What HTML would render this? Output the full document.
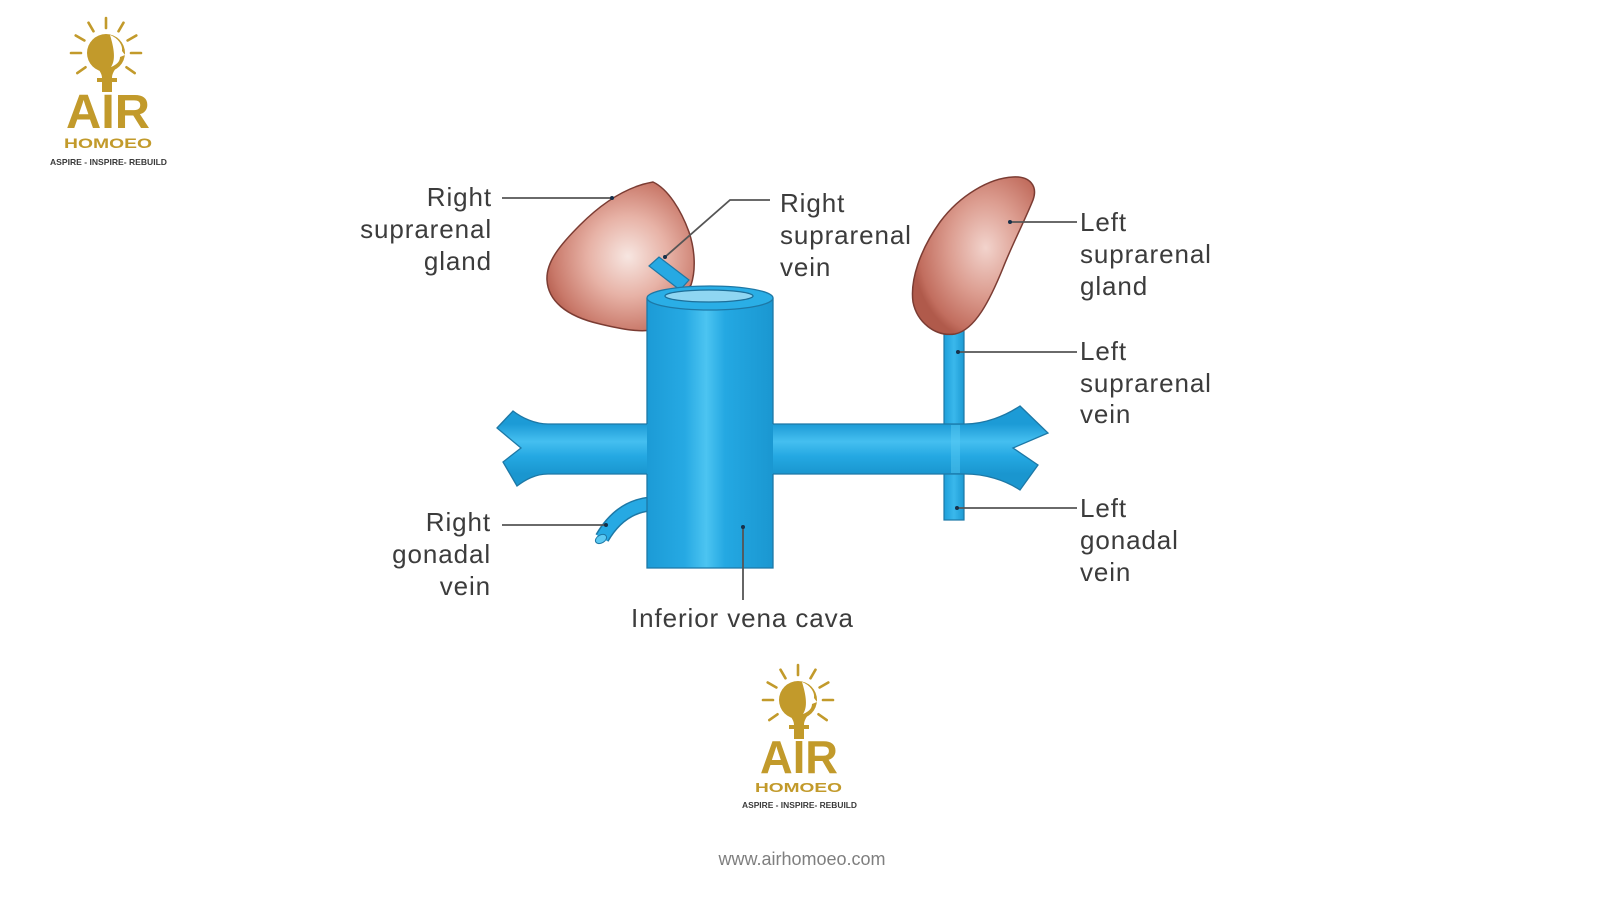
<!DOCTYPE html>
<html>
<head>
<meta charset="utf-8">
<style>
  html,body{margin:0;padding:0;background:#ffffff;}
  body{width:1600px;height:900px;overflow:hidden;}
  svg{display:block;}
  .lbl{font-family:"Liberation Sans",Arial,sans-serif;font-size:26px;fill:#3c3c3c;letter-spacing:0.9px;}
  .ld{stroke:#555;stroke-width:1.8;fill:none;}
</style>
</head>
<body>
<svg width="1600" height="900" viewBox="0 0 1600 900" xmlns="http://www.w3.org/2000/svg">
  <defs>
    <radialGradient id="glandR" cx="0.55" cy="0.5" r="0.6">
      <stop offset="0" stop-color="#f7e6e1"/>
      <stop offset="0.45" stop-color="#e7b2a6"/>
      <stop offset="0.85" stop-color="#c9796a"/>
      <stop offset="1" stop-color="#b55e4f"/>
    </radialGradient>
    <radialGradient id="glandL" cx="0.6" cy="0.45" r="0.6">
      <stop offset="0" stop-color="#f2d3cc"/>
      <stop offset="0.5" stop-color="#dc9d90"/>
      <stop offset="0.9" stop-color="#c26e5f"/>
      <stop offset="1" stop-color="#b05a4b"/>
    </radialGradient>
    <linearGradient id="ivc" x1="647" y1="0" x2="773" y2="0" gradientUnits="userSpaceOnUse">
      <stop offset="0" stop-color="#1c9bd6"/>
      <stop offset="0.3" stop-color="#26a9e3"/>
      <stop offset="0.47" stop-color="#4cc4f1"/>
      <stop offset="0.62" stop-color="#24a8e2"/>
      <stop offset="1" stop-color="#1a97d1"/>
    </linearGradient>
    <linearGradient id="renal" x1="0" y1="424" x2="0" y2="474" gradientUnits="userSpaceOnUse">
      <stop offset="0" stop-color="#1c9bd6"/>
      <stop offset="0.35" stop-color="#45bff0"/>
      <stop offset="0.65" stop-color="#24a8e2"/>
      <stop offset="1" stop-color="#1a96cf"/>
    </linearGradient>
    <linearGradient id="vert" x1="944" y1="0" x2="964" y2="0" gradientUnits="userSpaceOnUse">
      <stop offset="0" stop-color="#1e9fd9"/>
      <stop offset="0.5" stop-color="#3ab8ec"/>
      <stop offset="1" stop-color="#1c9ad3"/>
    </linearGradient>
  </defs>

  <!-- ===== LOGO 1 ===== -->
  <g transform="translate(108,18)">
    <g stroke="#c29a2b" stroke-width="2.6" stroke-linecap="round">
      <line x1="-2" y1="10" x2="-2" y2="0"/>
      <line x1="10.5" y1="13.3" x2="15.5" y2="4.7"/>
      <line x1="-14.5" y1="13.3" x2="-19.5" y2="4.7"/>
      <line x1="19.6" y1="22.5" x2="28.3" y2="17.5"/>
      <line x1="-23.6" y1="22.5" x2="-32.3" y2="17.5"/>
      <line x1="23" y1="35" x2="33" y2="35"/>
      <line x1="-27" y1="35" x2="-37" y2="35"/>
      <line x1="18.5" y1="49.3" x2="26.7" y2="55.1"/>
      <line x1="-22.5" y1="49.3" x2="-30.7" y2="55.1"/>
    </g>
    <circle cx="-2" cy="35" r="19" fill="#c29a2b"/>
    <path d="M2 17 C10 20 15 27 14 33 L17 37 L12 39 C12 44 8 47 3 49 C8 42 6 30 2 17 Z" fill="#ffffff"/>
    <path d="M-10 50 C-8 54 -6 56 -6 60 L4 60 C4 56 6 53 8 50 Z" fill="#c29a2b"/>
    <rect x="-11" y="60" width="20" height="4" fill="#c29a2b"/>
    <rect x="-6" y="64" width="10" height="10" fill="#c29a2b"/>
    <text x="-42" y="110" textLength="84" lengthAdjust="spacingAndGlyphs" font-family="Liberation Sans, Arial, sans-serif" font-weight="bold" font-size="48" fill="#c29a2b">AIR</text>
    <text x="-44" y="130" textLength="88" lengthAdjust="spacingAndGlyphs" font-family="Liberation Sans, Arial, sans-serif" font-weight="bold" font-size="14" fill="#c29a2b">HOMOEO</text>
    <text x="-58" y="147" textLength="117" lengthAdjust="spacingAndGlyphs" font-family="Liberation Sans, Arial, sans-serif" font-weight="bold" font-size="8.5" fill="#3a3a3a">ASPIRE - INSPIRE- REBUILD</text>
  </g>

  <!-- ===== LOGO 2 ===== -->
  <g transform="translate(800,665)">
    <g stroke="#c29a2b" stroke-width="2.6" stroke-linecap="round">
      <line x1="-2" y1="10" x2="-2" y2="0"/>
      <line x1="10.5" y1="13.3" x2="15.5" y2="4.7"/>
      <line x1="-14.5" y1="13.3" x2="-19.5" y2="4.7"/>
      <line x1="19.6" y1="22.5" x2="28.3" y2="17.5"/>
      <line x1="-23.6" y1="22.5" x2="-32.3" y2="17.5"/>
      <line x1="23" y1="35" x2="33" y2="35"/>
      <line x1="-27" y1="35" x2="-37" y2="35"/>
      <line x1="18.5" y1="49.3" x2="26.7" y2="55.1"/>
      <line x1="-22.5" y1="49.3" x2="-30.7" y2="55.1"/>
    </g>
    <circle cx="-2" cy="35" r="19" fill="#c29a2b"/>
    <path d="M2 17 C10 20 15 27 14 33 L17 37 L12 39 C12 44 8 47 3 49 C8 42 6 30 2 17 Z" fill="#ffffff"/>
    <path d="M-10 50 C-8 54 -6 56 -6 60 L4 60 C4 56 6 53 8 50 Z" fill="#c29a2b"/>
    <rect x="-11" y="60" width="20" height="4" fill="#c29a2b"/>
    <rect x="-6" y="64" width="10" height="10" fill="#c29a2b"/>
    <text x="-40" y="108" textLength="78" lengthAdjust="spacingAndGlyphs" font-family="Liberation Sans, Arial, sans-serif" font-weight="bold" font-size="46" fill="#c29a2b">AIR</text>
    <text x="-45" y="127" textLength="87" lengthAdjust="spacingAndGlyphs" font-family="Liberation Sans, Arial, sans-serif" font-weight="bold" font-size="13" fill="#c29a2b">HOMOEO</text>
    <text x="-58" y="143" textLength="115" lengthAdjust="spacingAndGlyphs" font-family="Liberation Sans, Arial, sans-serif" font-weight="bold" font-size="8" fill="#3a3a3a">ASPIRE - INSPIRE- REBUILD</text>
  </g>

  <text x="802" y="865" text-anchor="middle" font-family="Liberation Sans, Arial, sans-serif" font-size="18" fill="#7f7f7f">www.airhomoeo.com</text>

  <!-- ===== DIAGRAM ===== -->
  <!-- right suprarenal gland -->
  <path d="M653 182 C630 186 605 200 580 225 C560 245 546 262 547 280 C548 300 565 316 600 324 C625 330 640 332 652 330 L691 285 C696 270 695 250 689 232 C681 210 668 189 653 182 Z" fill="url(#glandR)" stroke="#7b3c33" stroke-width="1.5"/>

  <!-- right suprarenal vein (small) -->
  <path d="M649 266 L659 257 L689 280 L680 290 Z" fill="#26a9e3" stroke="#1d78a6" stroke-width="1.2"/>

  <!-- right gonadal vein -->
  <path d="M650 504 Q620 507 602 538" fill="none" stroke="#1d78a6" stroke-width="15"/>
  <path d="M650 504 Q620 507 602 538" fill="none" stroke="#26a9e3" stroke-width="12"/>
  <ellipse cx="601" cy="539" rx="6" ry="4" transform="rotate(-30 601 539)" fill="#5cc9f2" stroke="#1d78a6" stroke-width="1"/>

  <!-- left suprarenal / gonadal vertical vein -->
  <rect x="944" y="326" width="20" height="194" fill="url(#vert)" stroke="#1d78a6" stroke-width="1.2"/>

  <!-- left suprarenal gland -->
  <path d="M1013 177 C990 178 960 195 940 222 C920 250 910 280 913 302 C917 322 935 337 955 334 C975 330 990 300 1003 268 C1012 245 1025 220 1033 200 C1038 186 1030 176 1013 177 Z" fill="url(#glandL)" stroke="#7b3c33" stroke-width="1.5"/>

  <!-- renal vein -->
  <path d="M548 424 L965 424 C985 424 1005 416 1020 406 L1048 433 L1013 448 L1038 465 L1020 490 C1005 480 985 474 965 474 L548 474 C535 474 525 480 517 486 L503 462 L521 448 L497 428 L513 411 C522 418 535 424 548 424 Z" fill="url(#renal)" stroke="#1d78a6" stroke-width="1.3"/>
  <rect x="951" y="425" width="9" height="48" fill="#5ccbf3" opacity="0.45"/>

  <!-- IVC -->
  <rect x="647" y="298" width="126" height="270" fill="url(#ivc)"/>
  <path d="M647 298 L647 424 M647 474 L647 568 L773 568 L773 474 M773 424 L773 298" fill="none" stroke="#1d78a6" stroke-width="1.3"/>
  <ellipse cx="710" cy="298" rx="63" ry="12" fill="#2aaee6" stroke="#1d78a6" stroke-width="1.3"/>
  <ellipse cx="709" cy="296" rx="44" ry="6" fill="#8fd6f2" stroke="#1d6f99" stroke-width="1.3"/>

  <!-- leader lines -->
  <line class="ld" x1="502" y1="198" x2="612" y2="198"/>
  <polyline class="ld" points="770,200 730,200 665,257"/>
  <line class="ld" x1="1010" y1="222" x2="1077" y2="222"/>
  <line class="ld" x1="958" y1="352" x2="1077" y2="352"/>
  <line class="ld" x1="957" y1="508" x2="1077" y2="508"/>
  <line class="ld" x1="502" y1="525" x2="606" y2="525"/>
  <line class="ld" x1="743" y1="527" x2="743" y2="600"/>
  <g fill="#17304a">
    <circle cx="612" cy="198" r="2"/>
    <circle cx="665" cy="257" r="2"/>
    <circle cx="1010" cy="222" r="2"/>
    <circle cx="958" cy="352" r="2"/>
    <circle cx="957" cy="508" r="2"/>
    <circle cx="606" cy="525" r="2"/>
    <circle cx="743" cy="527" r="2"/>
  </g>

  <!-- labels -->
  <text class="lbl" x="492" y="206" text-anchor="end">Right</text>
  <text class="lbl" x="492" y="238" text-anchor="end">suprarenal</text>
  <text class="lbl" x="492" y="270" text-anchor="end">gland</text>

  <text class="lbl" x="780" y="212">Right</text>
  <text class="lbl" x="780" y="244">suprarenal</text>
  <text class="lbl" x="780" y="276">vein</text>

  <text class="lbl" x="1080" y="231">Left</text>
  <text class="lbl" x="1080" y="263">suprarenal</text>
  <text class="lbl" x="1080" y="295">gland</text>

  <text class="lbl" x="1080" y="360">Left</text>
  <text class="lbl" x="1080" y="392">suprarenal</text>
  <text class="lbl" x="1080" y="423">vein</text>

  <text class="lbl" x="1080" y="517">Left</text>
  <text class="lbl" x="1080" y="549">gonadal</text>
  <text class="lbl" x="1080" y="581">vein</text>

  <text class="lbl" x="491" y="531" text-anchor="end">Right</text>
  <text class="lbl" x="491" y="563" text-anchor="end">gonadal</text>
  <text class="lbl" x="491" y="595" text-anchor="end">vein</text>

  <text class="lbl" x="631" y="627">Inferior vena cava</text>
</svg>
</body>
</html>
